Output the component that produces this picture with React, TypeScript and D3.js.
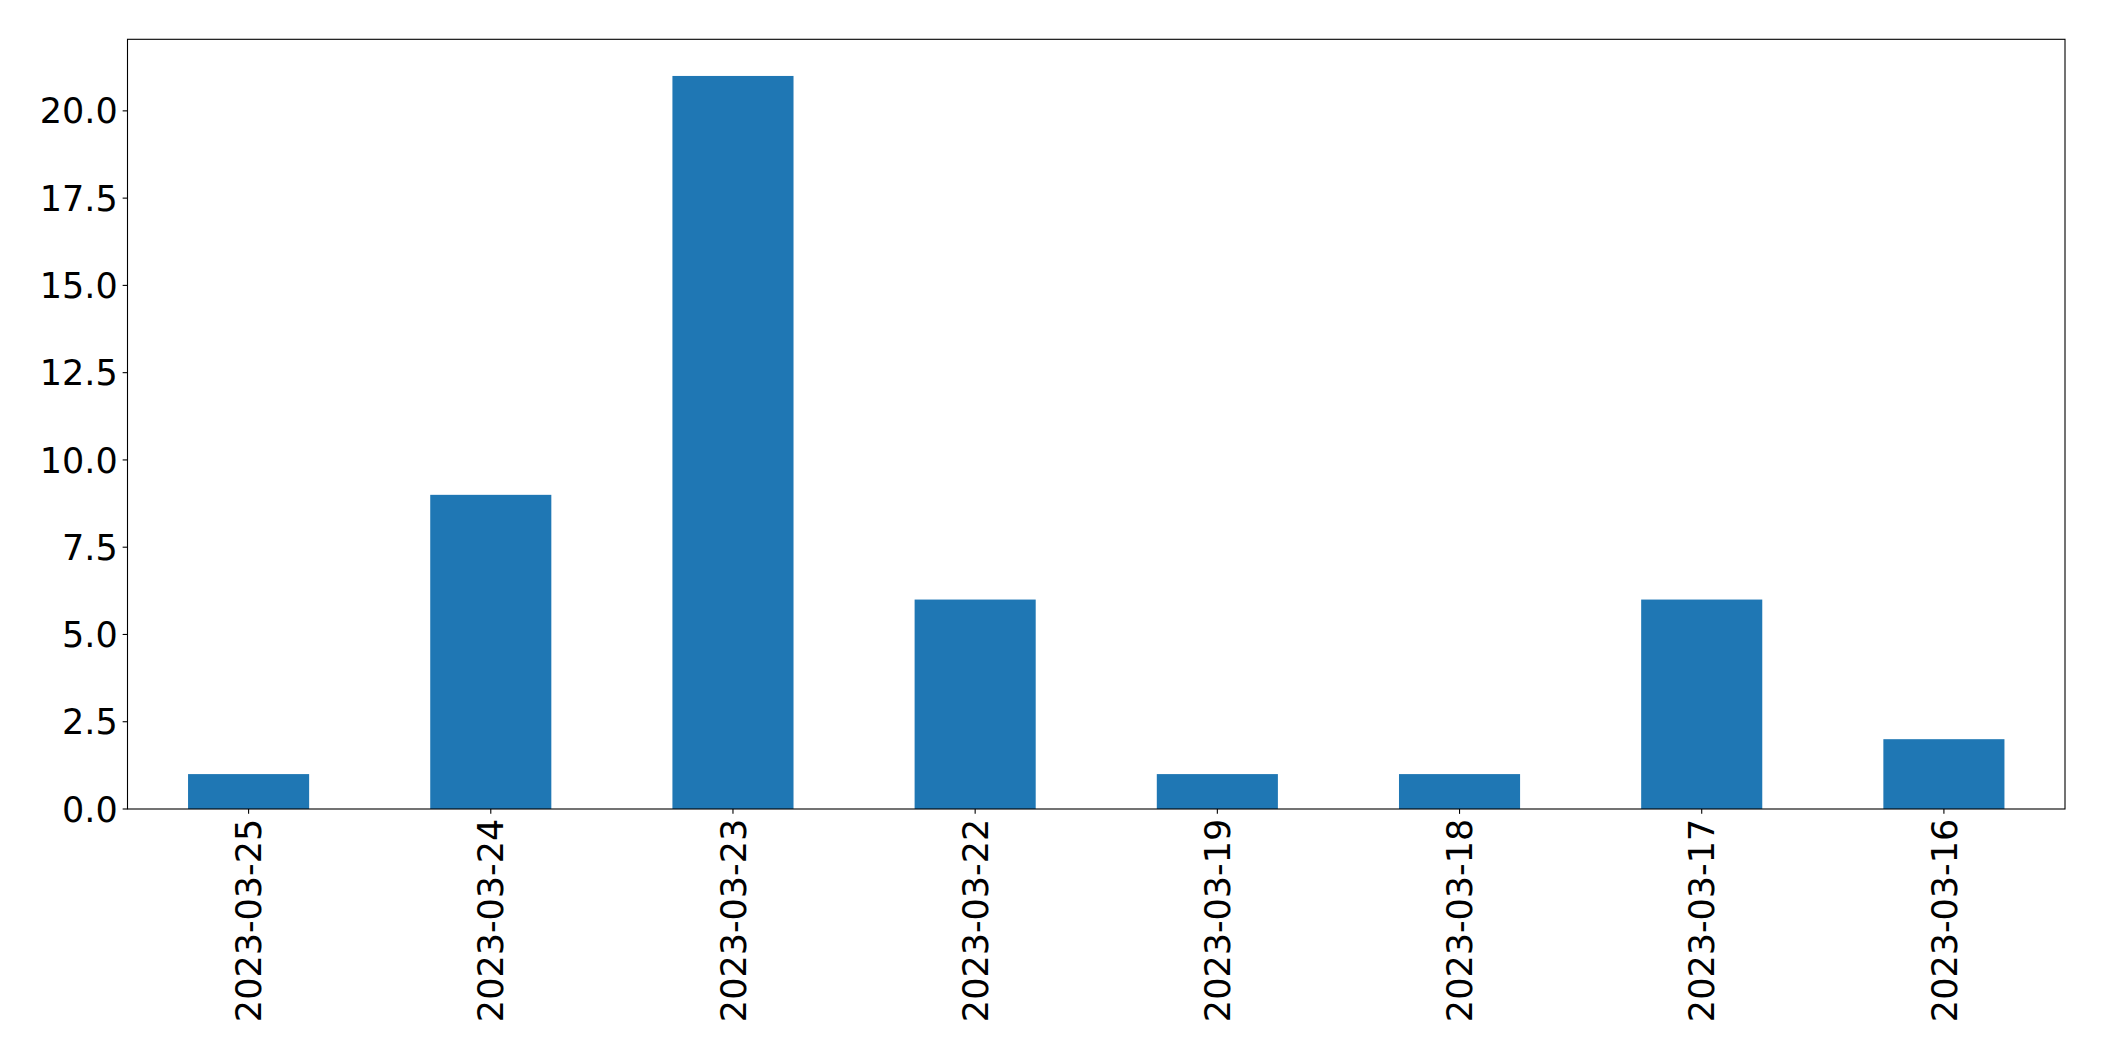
import React from "react";
import * as d3 from "d3";

const categories = ["2023-03-25", "2023-03-24", "2023-03-23", "2023-03-22", "2023-03-19", "2023-03-18", "2023-03-17", "2023-03-16"];
const values = [1, 9, 21, 6, 1, 1, 6, 2];
const yTicks = [0, 2.5, 5, 7.5, 10, 12.5, 15, 17.5, 20];

const W = 2104, H = 1061;
const left = 127.5, right = 2065, top = 39.3, bottom = 809;
const fontSize = 35;
const tickLen = 4.86;
const pad = 4.86;

export default function App() {
  const x = d3.scaleLinear().domain([-0.5, categories.length - 0.5]).range([left, right]);
  const y = d3.scaleLinear().domain([0, 22.05]).range([bottom, top]);
  const bw = x(0.25) - x(-0.25);
  return (
    <svg width={W} height={H} style={{ position: "absolute", left: 0, top: 0 }} fontFamily="DejaVu Sans">
      <rect x={0} y={0} width={W} height={H} fill="white" />
      {values.map((v, i) => (
        <rect key={i} x={x(i) - bw / 2} y={y(v)} width={bw} height={y(0) - y(v)} fill="#1f77b4" />
      ))}
      <rect x={left} y={top} width={right - left} height={bottom - top} fill="none" stroke="black" strokeWidth={1.1} />
      {yTicks.map((t) => (
        <g key={t}>
          <line x1={left - tickLen} x2={left} y1={y(t)} y2={y(t)} stroke="black" strokeWidth={1.1} />
          <text x={left - tickLen - pad} y={y(t)} dy="0.36em" textAnchor="end" fontSize={fontSize} fill="black">
            {t.toFixed(1)}
          </text>
        </g>
      ))}
      {categories.map((c, i) => (
        <g key={c}>
          <line x1={x(i)} x2={x(i)} y1={bottom} y2={bottom + tickLen} stroke="black" strokeWidth={1.1} />
          <text
            transform={`translate(${x(i)},${bottom + tickLen + pad}) rotate(-90)`}
            textAnchor="end"
            dy="0.36em"
            fontSize={fontSize}
            fill="black"
          >
            {c}
          </text>
        </g>
      ))}
    </svg>
  );
}
